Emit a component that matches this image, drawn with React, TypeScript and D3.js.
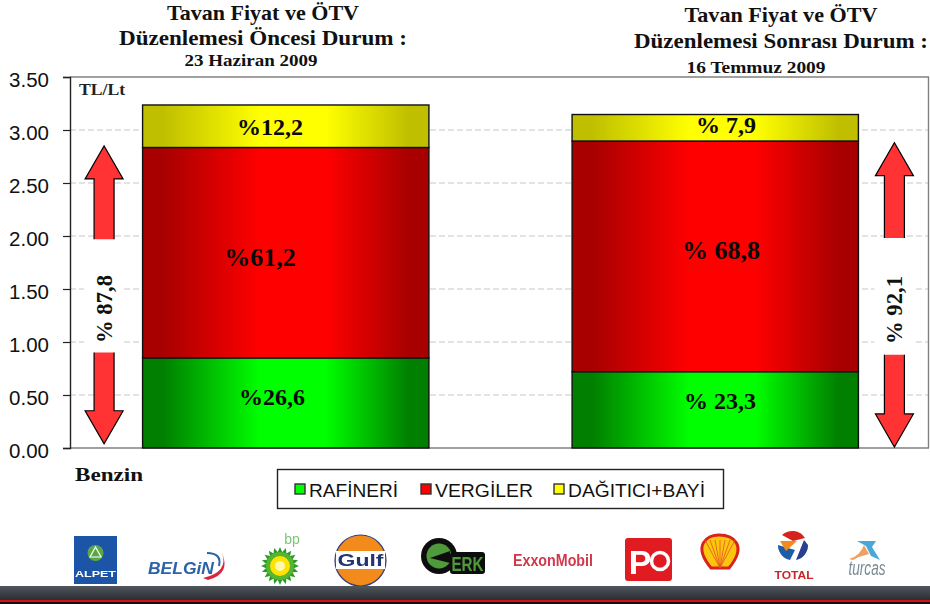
import { useEffect, useRef } from "react";
import * as d3 from "d3";

const periods = ["before", "after"];
const components = ["RAFİNERİ", "VERGİLER", "DAĞITICI+BAYİ"];
const refinery = [0.85, 0.72];
const taxes = [1.985, 2.176];
const dealer = [0.401, 0.25];
const shareLabels = [
  ["%26,6", "%61,2", "%12,2"],
  ["% 23,3", "% 68,8", "% 7,9"],
];
const totalLabels = ["% 87,8", "% 92,1"];
// arrow span in TL/Lt: up tip, up tail, down tail, down tip
const arrowSpans = [
  [2.85, 1.97, 0.9, 0.04],
  [2.88, 1.98, 0.88, 0.01],
];
const yTicks = [0, 0.5, 1, 1.5, 2, 2.5, 3, 3.5];

const WIDTH = 930;
const HEIGHT = 604;
const SERIF = "'Liberation Serif', serif";
const SANS = "'Liberation Sans', sans-serif";

const colors = [
  { id: "gradGreen", edge: "#007f00", mid: "#00ff00" },
  { id: "gradRed", edge: "#a80000", mid: "#ff0000" },
  { id: "gradYellow", edge: "#bfbf00", mid: "#ffff00" },
];

const x = d3.scaleBand<string>().domain(periods).range([71, 930]);
const y = d3.scaleLinear().domain([0, 3.5]).range([448, 77]);

const rows = periods.map((p, i) => ({ period: p, a: refinery[i], b: taxes[i], c: dealer[i] }));
const stacked = d3.stack<any>().keys(["a", "b", "c"])(rows);

function barLeft(i: number) {
  return (x(periods[i]) as number) + x.bandwidth() / 6;
}
const barWidth = x.bandwidth() * (2 / 3);

function Arrow({ cx, tip, tail }: { cx: number; tip: number; tail: number }) {
  const dir = tip < tail ? 1 : -1;
  const base = tip + dir * 33;
  const fillPath = d3.line()([
    [cx - 10, tail],
    [cx - 10, base],
    [cx - 19, base],
    [cx, tip],
    [cx + 19, base],
    [cx + 10, base],
    [cx + 10, tail],
  ]);
  return <path d={fillPath as string} fill="#ff3333" stroke="#000" strokeWidth={1.2} strokeLinejoin="miter" />;
}

function Title({ cx, lines, ys, widths, sizes }: any) {
  return lines.map((t: string, i: number) => (
    <text
      key={t}
      x={cx[i]}
      y={ys[i]}
      textAnchor="middle"
      fontFamily={SERIF}
      fontWeight="bold"
      fontSize={sizes[i]}
      fill="#111"
      textLength={widths[i]}
      lengthAdjust="spacingAndGlyphs"
    >
      {t}
    </text>
  ));
}

function Logos() {
  const bpRays = d3.range(20).map((k) => (k * 360) / 20);
  const shellRays = d3.range(-3, 4);
  return (
    <g filter="url(#soft)">
      {/* Alpet */}
      <rect x={74} y={536} width={43} height={48} fill="#1a55a8" />
      <circle cx={95.5} cy={553} r={8} fill="#5aa845" />
      <path d="M95.5 547 L101 557 L90 557 Z" fill="none" stroke="#fff" strokeWidth={1.2} />
      <text x={95.5} y={577} textAnchor="middle" fontFamily={SANS} fontWeight="bold" fontSize={9.5} fill="#fff" textLength={41} lengthAdjust="spacingAndGlyphs">ALPET</text>
      {/* Belgin */}
      <text x={148} y={574} fontFamily={SANS} fontWeight="bold" fontStyle="italic" fontSize={17} fill="#2f62a8" textLength={66} lengthAdjust="spacingAndGlyphs">BELGiN</text>
      <path d="M203 578 Q229 572 222 553 Q231 574 208 580 Z" fill="#d8283a" />
      <path d="M207 553 Q222 553 219 566" fill="none" stroke="#2f62a8" strokeWidth={2} />
      {/* BP */}
      <text x={292} y={544} textAnchor="middle" fontFamily={SANS} fontSize={14} fill="#7cc576">bp</text>
      {bpRays.map((a) => (
        <path key={a} d="M-3.5 -11 L0 -19 L3.5 -11 Z" transform={`translate(280 566) rotate(${a})`} fill="#2c9a2c" />
      ))}
      <circle cx={280} cy={566} r={14} fill="#59b52d" />
      <circle cx={280} cy={566} r={10} fill="#ffe300" />
      <circle cx={280} cy={566} r={5} fill="#fff8b0" />
      {/* Gulf */}
      <circle cx={360.5} cy={560.5} r={25.5} fill="#f28a1e" stroke="#2d3f7a" strokeWidth={1.2} />
      <rect x={336} y={551} width={49} height={18} fill="#fff" />
      <text x={360.5} y={566} textAnchor="middle" fontFamily={SANS} fontWeight="bold" fontSize={17} fill="#23356f" textLength={46} lengthAdjust="spacingAndGlyphs">Gulf</text>
      {/* Erk */}
      <circle cx={439} cy={556} r={18} fill="#111" />
      <circle cx={439} cy={556} r={12.5} fill="#4f9a3a" />
      <path d="M430 558 L450 551 L450 563 Z" fill="#111" />
      <rect x={450} y={552} width={35} height={22} rx={3} fill="#111" />
      <text x={467.5} y={571} textAnchor="middle" fontFamily={SANS} fontWeight="bold" fontSize={20} fill="#4f9a3a" textLength={32} lengthAdjust="spacingAndGlyphs">ERK</text>
      {/* ExxonMobil */}
      <text x={513} y={566} fontFamily={SANS} fontWeight="bold" fontSize={17} fill="#d2384a" textLength={80} lengthAdjust="spacingAndGlyphs">ExxonMobil</text>
      {/* PO */}
      <rect x={625} y={538} width={47} height={43} rx={3} fill="#e01a24" />
      <text x={640} y={574} textAnchor="middle" fontFamily={SANS} fontWeight="bold" fontSize={34} fill="#fff">P</text>
      <circle cx={660} cy={561} r={8.5} fill="none" stroke="#fff" strokeWidth={3.5} />
      {/* Shell */}
      <path d="M711 568 C 692 545, 707 535, 719 535 C 733 535, 748 545, 729 568 Z" fill="#fbc70e" stroke="#d8241e" strokeWidth={3} />
      {shellRays.map((k) => (
        <line key={k} x1={720} y1={568} x2={720 + k * 5} y2={540} stroke="#e8502a" strokeWidth={0.8} />
      ))}
      {/* Total */}
      <circle cx={793} cy={545} r={15} fill="#fff" />
      <path d="M782 535 A15 15 0 0 1 805 538 L793 541 Z" fill="#d8241e" />
      <path d="M778 545 A15 15 0 0 0 790 560 L795 550 Z" fill="#1f5ca8" />
      <path d="M780 541 L797 541 L786 551 Z" fill="#f28a1e" />
      <path d="M808 545 A15 15 0 0 1 796 560 L804 540 Z" fill="#2a3f8f" />
      <text x={794} y={579} textAnchor="middle" fontFamily={SANS} fontWeight="bold" fontSize={10} fill="#c8282a" textLength={39} lengthAdjust="spacingAndGlyphs">TOTAL</text>
      {/* Turcas */}
      <path d="M849 559 Q860 556 864 545 L869 554 Q860 556 853 560 Z" fill="#f0a060" />
      <path d="M857 541 L876 541 L872 547 L880 560 L871 556 L866 546 Z" fill="#4aa8d8" />
      <text x={867} y={575} textAnchor="middle" fontFamily={SANS} fontStyle="italic" fontSize={20} fill="#7a8a94" textLength={37} lengthAdjust="spacingAndGlyphs">turcas</text>
    </g>
  );
}

export default function App() {
  const axisRef = useRef<SVGGElement>(null);

  useEffect(() => {
    const g = d3.select(axisRef.current as SVGGElement);
    g.call(
      d3
        .axisLeft(y)
        .tickValues(yTicks)
        .tickFormat(d3.format(".2f") as any)
        .tickSize(7)
        .tickPadding(14)
    );
    g.select(".domain").attr("stroke", "#222").attr("stroke-width", 1.4);
    g.selectAll(".tick line").attr("stroke", "#222").attr("stroke-width", 1.2);
    // labels sit a little under their ticks in the original
    g.selectAll("text").attr("font-family", SANS).attr("font-size", 20.5).attr("fill", "#111").attr("dy", "0.44em");
  }, []);

  return (
    <svg
      width={WIDTH}
      height={HEIGHT}
      style={{ position: "absolute", left: 0, top: 0, display: "block", background: "#fff" }}
    >
      <defs>
        {colors.map((c) => (
          <linearGradient key={c.id} id={c.id} x1="0" y1="0" x2="1" y2="0">
            <stop offset="0%" stopColor={c.edge} />
            <stop offset="7%" stopColor={c.edge} />
            <stop offset="41%" stopColor={c.mid} />
            <stop offset="64%" stopColor={c.mid} />
            <stop offset="93%" stopColor={c.edge} />
            <stop offset="100%" stopColor={c.edge} />
          </linearGradient>
        ))}
        <linearGradient id="footer" x1="0" y1="0" x2="0" y2="1">
          <stop offset="0%" stopColor="#50565c" />
          <stop offset="100%" stopColor="#2a2e33" />
        </linearGradient>
        <filter id="soft">
          <feGaussianBlur stdDeviation="0.45" />
        </filter>
      </defs>

      <Title
        cx={[263, 263, 251]}
        ys={[20, 45, 66]}
        widths={[192, 288, 133]}
        sizes={[21, 21, 17]}
        lines={["Tavan Fiyat ve ÖTV", "Düzenlemesi Öncesi Durum :", "23 Haziran 2009"]}
      />
      <Title
        cx={[781, 781, 756]}
        ys={[22, 48, 73]}
        widths={[193, 294, 139]}
        sizes={[21, 21, 17]}
        lines={["Tavan Fiyat ve ÖTV", "Düzenlemesi Sonrası Durum :", "16 Temmuz 2009"]}
      />

      {/* plot frame and grid */}
      <g>
        {yTicks.slice(1, -1).map((t) => (
          <line key={t} x1={70} x2={929} y1={y(t)} y2={y(t)} stroke="#c8c8c8" strokeWidth={1.2} strokeDasharray="6 3" />
        ))}
        <line x1={70} x2={929} y1={y(3.5)} y2={y(3.5)} stroke="#808080" strokeWidth={1.4} />
        <line x1={928.5} x2={928.5} y1={y(3.5)} y2={y(0)} stroke="#808080" strokeWidth={1.4} />
        <line x1={70} x2={929} y1={y(0)} y2={y(0)} stroke="#808080" strokeWidth={1.6} />
      </g>
      <g ref={axisRef} transform="translate(70,0)" />

      {/* stacked bars */}
      {stacked.map((layer, li) => (
        <g key={layer.key}>
          {layer.map((d, i) => (
            <rect
              key={i}
              x={barLeft(i)}
              width={barWidth}
              y={y(d[1])}
              height={y(d[0]) - y(d[1])}
              fill={`url(#${colors[li].id})`}
              stroke="#111"
              strokeWidth={1.4}
            />
          ))}
        </g>
      ))}

      {/* share labels */}
      <g fontFamily={SERIF} fontWeight="bold" fill="#0a0a0a" textAnchor="middle">
        <text x={272} y={405} fontSize={24}>{shareLabels[0][0]}</text>
        <text x={260} y={266} fontSize={26}>{shareLabels[0][1]}</text>
        <text x={270} y={135} fontSize={24}>{shareLabels[0][2]}</text>
        <text x={720} y={409} fontSize={24}>{shareLabels[1][0]}</text>
        <text x={721} y={259} fontSize={26}>{shareLabels[1][1]}</text>
        <text x={726} y={133} fontSize={24}>{shareLabels[1][2]}</text>
      </g>

      {/* total share arrows */}
      {arrowSpans.map((span, i) => {
        const cx = i === 0 ? barLeft(0) - 38.5 : barLeft(1) + barWidth + 36;
        return (
          <g key={i}>
            <rect x={cx - 20} y={y(span[1])} width={40} height={y(span[2]) - y(span[1])} fill="#fff" />
            <Arrow cx={cx} tip={y(span[0])} tail={y(span[1])} />
            <Arrow cx={cx} tip={y(span[3])} tail={y(span[2])} />
            <text
              transform={`translate(${cx + 8},${i === 0 ? 343 : 344}) rotate(-90)`}
              fontFamily={SERIF}
              fontWeight="bold"
              fontSize={23}
              fill="#111"
              textLength={68}
              lengthAdjust="spacingAndGlyphs"
            >
              {totalLabels[i]}
            </text>
          </g>
        );
      })}

      <text x={79} y={95} fontFamily={SERIF} fontWeight="bold" fontSize={16} fill="#222" textLength={46} lengthAdjust="spacingAndGlyphs">TL/Lt</text>
      <text x={75} y={481} fontFamily={SERIF} fontWeight="bold" fontSize={19} fill="#111" textLength={68} lengthAdjust="spacingAndGlyphs">Benzin</text>

      {/* legend */}
      <rect x={277.5} y={469.5} width={446} height={39} fill="#fff" stroke="#222" strokeWidth={1.4} />
      {components.map((name, i) => {
        const sx = [295, 421, 554][i];
        const tw = [89, 98, 137][i];
        return (
          <g key={name}>
            <rect x={sx} y={484} width={10} height={10} fill={colors[i].mid} stroke="#333" strokeWidth={1.4} />
            <text x={sx + 14} y={497} fontFamily={SANS} fontSize={19} fill="#111" textLength={tw} lengthAdjust="spacingAndGlyphs">{name}</text>
          </g>
        );
      })}

      <Logos />

      {/* footer strip */}
      <rect x={0} y={586} width={WIDTH} height={14} fill="url(#footer)" />
      <rect x={0} y={600} width={WIDTH} height={2} fill="#d8101c" />
      <rect x={0} y={602} width={WIDTH} height={2} fill="#111" />
    </svg>
  );
}
